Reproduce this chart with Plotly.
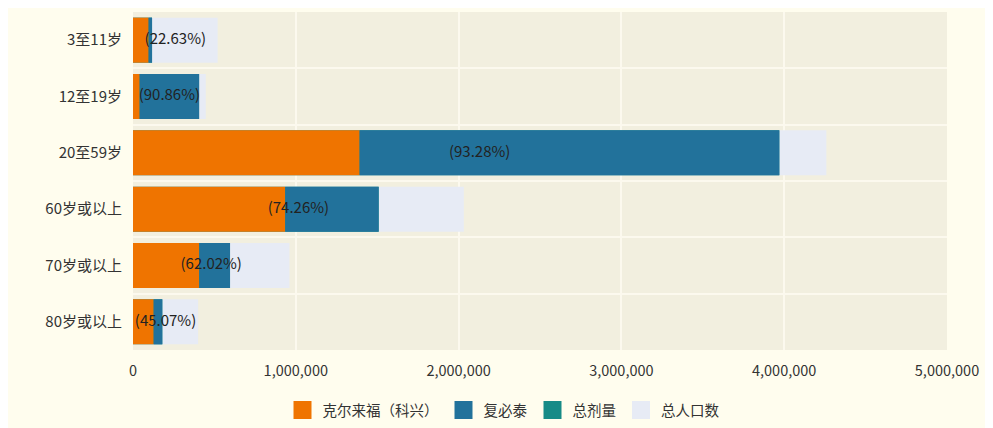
import plotly.graph_objects as go

categories = ["3至11岁", "12至19岁", "20至59岁", "60岁或以上", "70岁或以上", "80岁或以上"]
kexing = [96000, 41000, 1392000, 935000, 407000, 127000]
biontech = [21000, 365000, 2578000, 574000, 189000, 53000]
population = [520000, 447000, 4259000, 2032000, 961000, 400000]
pct = [22.63, 90.86, 93.28, 74.26, 62.02, 45.07]
series_names = ["克尔来福（科兴）", "复必泰", "总剂量", "总人口数"]
x_ticks = [0, 1000000, 2000000, 3000000, 4000000, 5000000]

total_dose = [a + b for a, b in zip(kexing, biontech)]
label_x = [p / 2 for p in population]
labels = ["(%.2f%%)" % v for v in pct]

C_ORANGE = "#ef7400"
C_BLUE = "#22729b"
C_TEAL = "#168b87"
C_POP = "#e7ebf5"
FONT = "Noto Sans CJK SC"

fig = go.Figure()
fig.add_trace(go.Bar(y=categories, x=population, orientation="h", name=series_names[3],
                     marker=dict(color=C_POP, line=dict(width=0)), showlegend=False))
fig.add_trace(go.Bar(y=categories, x=total_dose, orientation="h", name=series_names[2],
                     marker=dict(color=C_TEAL, line=dict(width=0)), showlegend=False))
fig.add_trace(go.Bar(y=categories, x=kexing, orientation="h", name=series_names[0],
                     marker=dict(color=C_ORANGE, line=dict(width=0)), showlegend=False))
fig.add_trace(go.Bar(y=categories, x=biontech, base=kexing, orientation="h", name=series_names[1],
                     marker=dict(color=C_BLUE, line=dict(width=0)), showlegend=False))
fig.add_trace(go.Scatter(y=categories, x=label_x, mode="text", text=labels,
                         textfont=dict(family=FONT, size=15, color="#222222"),
                         showlegend=False, hoverinfo="skip", cliponaxis=False))

for name, col in zip(series_names, [C_ORANGE, C_BLUE, C_TEAL, C_POP]):
    fig.add_trace(go.Scatter(x=[None], y=[None], mode="markers", name=name,
                             marker=dict(symbol="square", size=16, color=col,
                                         line=dict(color=col, width=2))))

# page is rendered with an 8px body margin; figure coords = page coords - 8
L, R, T, B = 125, 46, 4, 78
W, H = 985, 420
pw, ph = W - L - R, H - T - B

fig.update_layout(
    width=W, height=H,
    barmode="overlay", bargap=0.2,
    margin=dict(l=L, r=R, t=T, b=B, autoexpand=False),
    paper_bgcolor="#fffdee",
    plot_bgcolor="#f2efdf",
    font=dict(family=FONT, size=14, color="#333333"),
    showlegend=True,
    legend=dict(orientation="h", x=(495.5 - L) / pw, xanchor="center",
                y=(ph - (402 - T)) / ph, yanchor="middle",
                font=dict(family=FONT, size=14.5, color="#333333"),
                itemsizing="trace", bgcolor="rgba(0,0,0,0)"),
    xaxis=dict(range=[0, 5000000], tickvals=x_ticks, tickformat=",d", showgrid=True,
               gridcolor="#fcf9ee", gridwidth=1.5, zeroline=False, showline=False,
               ticks="", ticklabelstandoff=10, tickangle=0,
               tickfont=dict(size=14.5, color="#333333"), fixedrange=True, automargin=False),
    yaxis=dict(autorange="reversed", type="category", tickson="boundaries", showgrid=True,
               gridcolor="#fcf9ee", gridwidth=1.5, zeroline=False, showline=False,
               ticks="", ticklabelstandoff=10, tickfont=dict(size=15, color="#333333"),
               fixedrange=True, automargin=False),
)

fig.write_html("out.html")
